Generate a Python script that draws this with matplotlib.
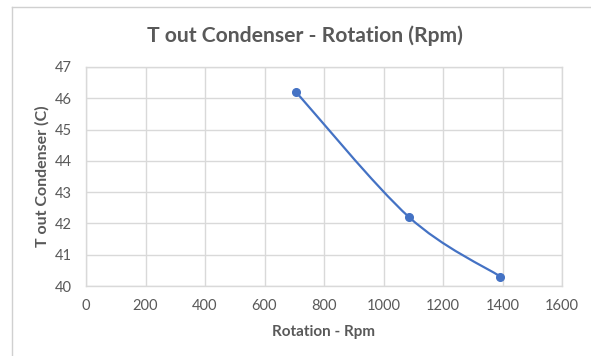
import matplotlib
matplotlib.use("Agg")
import matplotlib.pyplot as plt
from matplotlib.path import Path
from matplotlib.patches import PathPatch
from matplotlib.lines import Line2D

rotation_rpm = [706, 1086, 1393]
t_out_condenser = [46.2, 42.2, 40.3]
x_ticks = [0, 200, 400, 600, 800, 1000, 1200, 1400, 1600]
y_ticks = [40, 41, 42, 43, 44, 45, 46, 47]

title = "T out Condenser - Rotation (Rpm)"
xlabel = "Rotation - Rpm"
ylabel = "T out Condenser (C)"

W, H = 591, 356
fig = plt.figure(figsize=(W / 100, H / 100), dpi=100)
fig.patch.set_facecolor("white")

FONT = ["Lato", "DejaVu Sans"]
TXT = "#595959"
GRID = "#d9d9d9"
LINE = "#4472C4"

ax = fig.add_axes([86 / W, (H - 286) / H, (562 - 86) / W, (286 - 67) / H])
ax.set_xlim(0, 1600)
ax.set_ylim(40, 47)
ax.set_xticks(x_ticks)
ax.set_yticks(y_ticks)
ax.grid(True, color=GRID, linewidth=1.0)
ax.set_axisbelow(True)
for s in ax.spines.values():
    s.set_color(GRID)
    s.set_linewidth(1.0)
ax.tick_params(length=0, colors=TXT, labelsize=10.5)
ax.tick_params(axis="x", pad=9)
ax.tick_params(axis="y", pad=10)
for lab in ax.get_xticklabels() + ax.get_yticklabels():
    lab.set_family(FONT)

# Excel-style smoothed line (Bezier through points)
pts = list(zip(rotation_rpm, t_out_condenser))
n = len(pts)
verts = [pts[0]]
codes = [Path.MOVETO]
for i in range(n - 1):
    p0 = pts[i - 1] if i > 0 else pts[i]
    p1 = pts[i]
    p2 = pts[i + 1]
    p3 = pts[i + 2] if i + 2 < n else pts[i + 1]
    c1 = (p1[0] + (p2[0] - p0[0]) / 6, p1[1] + (p2[1] - p0[1]) / 6)
    c2 = (p2[0] - (p3[0] - p1[0]) / 6, p2[1] - (p3[1] - p1[1]) / 6)
    verts += [c1, c2, p2]
    codes += [Path.CURVE4] * 3
ax.add_patch(PathPatch(Path(verts, codes), facecolor="none", edgecolor=LINE,
                       linewidth=1.6, zorder=3))
ax.plot(rotation_rpm, t_out_condenser, linestyle="none", marker="o",
        markersize=5.5, color=LINE, zorder=4)

fig.text(324 / W, 1 - 332 / H, xlabel, family=FONT, fontsize=11, fontweight="bold",
         color=TXT, ha="center", va="center")
fig.text(42 / W, 1 - 176 / H, ylabel, family=FONT, fontsize=11.5, fontweight="bold",
         color=TXT, ha="center", va="center", rotation=90)
fig.text(305 / W, 1 - 36 / H, title, family=FONT, fontsize=15.2,
         fontweight="bold", color=TXT, ha="center", va="center")

# chart frame (spreadsheet border)
fig.add_artist(Line2D([12 / W, 12 / W], [0, 1 - 7 / H], transform=fig.transFigure,
                      color="#d0d0d0", linewidth=1.0))
fig.add_artist(Line2D([12 / W, 1], [1 - 7 / H, 1 - 7 / H], transform=fig.transFigure,
                      color="#d0d0d0", linewidth=1.0))

fig.savefig("out.png", dpi=100, facecolor="white")
